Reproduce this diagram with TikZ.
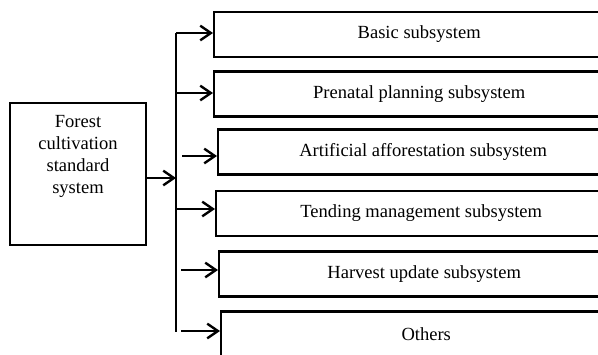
\documentclass[tikz,border=0pt]{standalone}
\usepackage{fontspec}
\setmainfont{Liberation Serif}
\usetikzlibrary{arrows.meta}

\begin{document}
\begin{tikzpicture}[x=0.75pt, y=-0.75pt, line width=1.8pt,
    txt/.style={font=\fontsize{13.9}{16.5}\selectfont},
    subbox/.style={draw, txt, anchor=west, minimum width=307.5pt, minimum height=33.75pt, inner sep=0pt},
    arr/.style={-{Straight Barb[length=8pt, width=11pt]}}]

    % frame of the picture (boxes run off the right and bottom)
    \useasboundingbox (0,0) rectangle (598,354);
    \clip (0,0) rectangle (598,354);

    % ==========================================
    % LEFT: whole system
    % ==========================================
    \node[draw, minimum width=102pt, minimum height=106.5pt] (forest) at (78,174) {};
    \node[txt, align=center] (forestlbl) at (78,156) {Forest\\cultivation\\standard\\system};

    % ==========================================
    % RIGHT: subsystems
    % ==========================================
    \node[subbox] (basic)    at (213,34.5) {Basic subsystem};
    \node[subbox] (prenatal) at (213,94)   {Prenatal planning subsystem};
    \node[subbox] (artif)    at (217,152)  {Artificial afforestation subsystem};
    \node[subbox] (tending)  at (215,213.5) {Tending management subsystem};
    \node[subbox] (harvest)  at (218,274)  {Harvest update subsystem};
    \node[subbox] (others)   at (220,334)  {Others};

    % ==========================================
    % CONNECTORS
    % ==========================================

    % Trunk
    \coordinate (trunktop) at (176,33);
    \coordinate (trunkbot) at (176,332);
    \draw (trunktop) -- (trunkbot);

    % System -> trunk
    \draw[arr] ([yshift=-3pt]forest.east) -- ([yshift=-3pt]forest.east -| trunktop);

    % Trunk -> each subsystem
    \foreach \y/\sx/\b in {33/176/basic, 93/176/prenatal, 156/182/artif,
                           209/176/tending, 270/181/harvest, 331/181/others}{
        \coordinate (from\b) at (\sx,\y);
        \draw[arr] (from\b) -- (from\b -| \b.west);
    }

\end{tikzpicture}
\end{document}
